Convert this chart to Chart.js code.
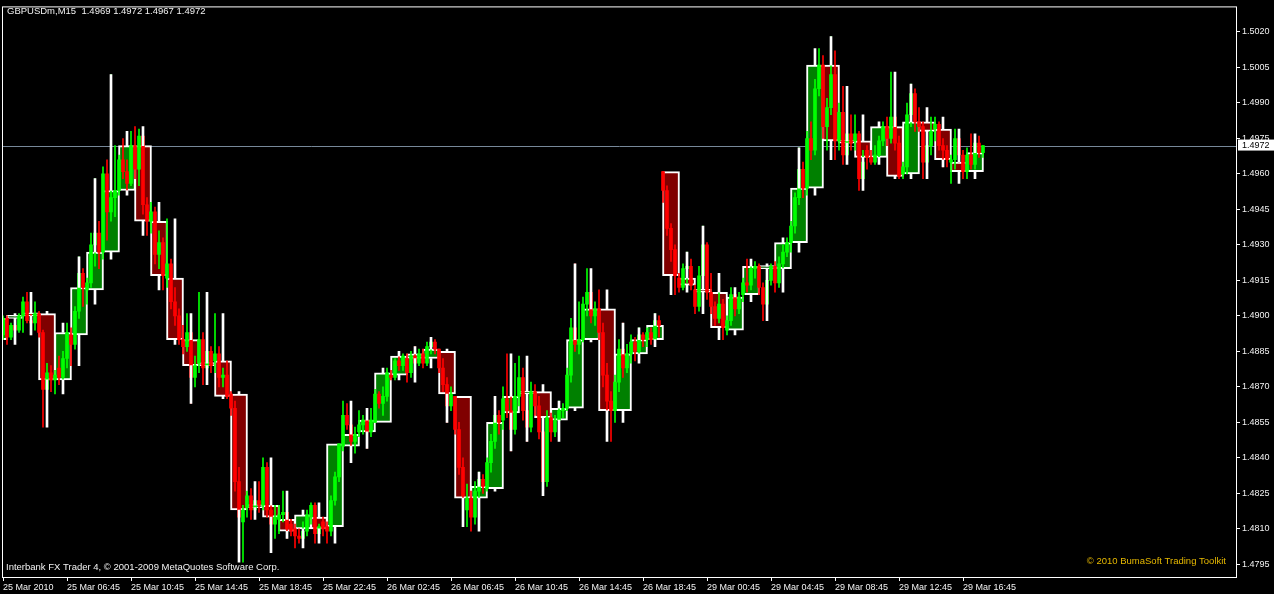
<!DOCTYPE html>
<html>
<head>
<meta charset="utf-8">
<script src="https://cdn.jsdelivr.net/npm/chart.js@4.4.1/dist/chart.umd.min.js"></script>
<style>
html,body{margin:0;padding:0;background:#000;}
canvas{display:block;}
</style>
</head>
<body>
<canvas id="c" width="1274" height="594"></canvas>
<script>
// ---- H1 candles (hour boxes), one per hour ----
const h1Open  = [1.4890,1.4899,1.4900,1.4901,1.4873,1.4892,1.4911,1.4927,1.4953,1.4972,1.4940,1.4916,1.4890,1.4880,1.4881,1.4867,1.4819,1.4820,1.4814,1.4810,1.4815,1.4811,1.4845,1.4851,1.4855,1.4875,1.4882,1.4882,1.4885,1.4866,1.4823,1.4827,1.4859,1.4867,1.4868,1.4856,1.4861,1.4890,1.4903,1.4860,1.4884,1.4890,1.4961,1.4916,1.4911,1.4910,1.4894,1.4909,1.4920,1.4920,1.4931,1.4954,1.5006,1.4974,1.4974,1.4967,1.4980,1.4960,1.4982,1.4979,1.4965,1.4961];
const h1High  = [1.4900,1.4901,1.4910,1.4902,1.4897,1.4925,1.4958,1.5002,1.4978,1.4980,1.4948,1.4941,1.4901,1.4910,1.4901,1.4868,1.4830,1.4840,1.4826,1.4818,1.4821,1.4846,1.4864,1.4861,1.4878,1.4885,1.4887,1.4891,1.4886,1.4866,1.4834,1.4866,1.4884,1.4883,1.4871,1.4864,1.4922,1.4920,1.4911,1.4897,1.4895,1.4901,1.4961,1.4927,1.4938,1.4918,1.4912,1.4924,1.4922,1.4933,1.4971,1.5013,1.5018,1.4997,1.4985,1.4982,1.5003,1.4998,1.4988,1.4984,1.4979,1.4977];
const h1Low   = [1.4888,1.4888,1.4892,1.4853,1.4867,1.4879,1.4905,1.4924,1.4951,1.4934,1.4911,1.4888,1.4863,1.4871,1.4865,1.4796,1.4814,1.4800,1.4806,1.4802,1.4804,1.4804,1.4838,1.4844,1.4855,1.4873,1.4872,1.4878,1.4855,1.4811,1.4809,1.4826,1.4843,1.4847,1.4824,1.4847,1.4860,1.4889,1.4847,1.4855,1.4880,1.4887,1.4909,1.4910,1.4901,1.4890,1.4892,1.4906,1.4898,1.4910,1.4927,1.4951,1.4966,1.4964,1.4953,1.4964,1.4958,1.4958,1.4958,1.4963,1.4956,1.4958];
const h1Close = [1.4899,1.4900,1.4901,1.4873,1.4893,1.4912,1.4927,1.4953,1.4972,1.4940,1.4917,1.4890,1.4879,1.4879,1.4866,1.4818,1.4820,1.4815,1.4809,1.4816,1.4810,1.4846,1.4850,1.4856,1.4876,1.4883,1.4884,1.4886,1.4867,1.4823,1.4828,1.4855,1.4866,1.4868,1.4857,1.4861,1.4890,1.4903,1.4860,1.4884,1.4890,1.4896,1.4917,1.4913,1.4910,1.4895,1.4908,1.4921,1.4921,1.4931,1.4954,1.5006,1.4974,1.4973,1.4967,1.4980,1.4959,1.4982,1.4978,1.4966,1.4961,1.4969];

// ---- M15 candles, one per 15-minute bar ----
const m15Open = [
1.4892,1.4899,1.4891,1.4896,1.4894,1.4900,1.4906,1.4898,1.4897,1.4901,
1.4893,1.4869,1.4876,1.4873,1.4878,1.4874,1.4882,1.4892,1.4888,1.4902,
1.4918,1.4911,1.4914,1.4930,1.4935,1.4927,1.4960,1.4944,1.4950,1.4953,
1.4966,1.4961,1.4956,1.4972,1.4962,1.4976,1.4947,1.4940,1.4944,1.4926,
1.4931,1.4916,1.4922,1.4906,1.4900,1.4890,1.4887,1.4893,1.4874,1.4880,
1.4890,1.4878,1.4885,1.4881,1.4884,1.4874,1.4875,1.4867,1.4861,1.4830,
1.4813,1.4819,1.4824,1.4818,1.4822,1.4820,1.4836,1.4818,1.4812,1.4814,
1.4816,1.4817,1.4812,1.4810,1.4807,1.4806,1.4809,1.4815,1.4820,1.4808,
1.4813,1.4811,1.4809,1.4822,1.4832,1.4845,1.4858,1.4854,1.4847,1.4851,
1.4854,1.4856,1.4851,1.4855,1.4867,1.4863,1.4866,1.4875,1.4874,1.4881,
1.4879,1.4882,1.4876,1.4883,1.4880,1.4884,1.4880,1.4887,1.4889,1.4886,
1.4878,1.4871,1.4862,1.4866,1.4852,1.4836,1.4818,1.4823,1.4815,1.4826,
1.4831,1.4827,1.4838,1.4847,1.4858,1.4856,1.4865,1.4860,1.4852,1.4866,
1.4874,1.4860,1.4853,1.4868,1.4862,1.4851,1.4830,1.4857,1.4851,1.4856,
1.4860,1.4861,1.4875,1.4895,1.4888,1.4890,1.4905,1.4910,1.4900,1.4903,
1.4893,1.4875,1.4864,1.4860,1.4872,1.4886,1.4878,1.4884,1.4889,1.4885,
1.4892,1.4890,1.4893,1.4890,1.4898,1.4961,1.4953,1.4937,1.4928,1.4916,
1.4912,1.4920,1.4921,1.4911,1.4904,1.4917,1.4930,1.4910,1.4904,1.4899,
1.4905,1.4894,1.4898,1.4909,1.4903,1.4909,1.4914,1.4913,1.4920,1.4921,
1.4912,1.4905,1.4915,1.4921,1.4914,1.4922,1.4927,1.4931,1.4938,1.4950,
1.4962,1.4954,1.4975,1.4970,1.4996,1.5006,1.4980,1.4988,1.5002,1.4974,
1.4986,1.4968,1.4977,1.4974,1.4977,1.4958,1.4970,1.4967,1.4965,1.4968,
1.4974,1.4980,1.4975,1.4984,1.4973,1.4960,1.4963,1.4985,1.4994,1.4982,
1.4980,1.4965,1.4972,1.4979,1.4981,1.4972,1.4970,1.4965,1.4966,1.4975,
1.4968,1.4961,1.4968,1.4964,1.4973,1.4969];
const m15High = [
1.4900,1.4900,1.4897,1.4899,1.4901,1.4908,1.4910,1.4903,1.4906,1.4902,
1.4894,1.4880,1.4879,1.4877,1.4883,1.4885,1.4897,1.4895,1.4904,1.4925,
1.4920,1.4916,1.4935,1.4958,1.4940,1.4963,1.4966,1.5002,1.4972,1.4968,
1.4975,1.4966,1.4978,1.4980,1.4979,1.4978,1.4950,1.4948,1.4946,1.4936,
1.4933,1.4941,1.4924,1.4912,1.4903,1.4896,1.4901,1.4895,1.4883,1.4910,
1.4893,1.4888,1.4887,1.4901,1.4887,1.4878,1.4881,1.4868,1.4864,1.4836,
1.4820,1.4826,1.4827,1.4824,1.4830,1.4840,1.4838,1.4826,1.4820,1.4820,
1.4826,1.4818,1.4814,1.4812,1.4810,1.4813,1.4818,1.4821,1.4821,1.4812,
1.4815,1.4813,1.4824,1.4834,1.4846,1.4864,1.4863,1.4856,1.4853,1.4860,
1.4858,1.4858,1.4861,1.4869,1.4868,1.4870,1.4878,1.4877,1.4882,1.4885,
1.4884,1.4884,1.4885,1.4887,1.4886,1.4886,1.4889,1.4891,1.4890,1.4886,
1.4882,1.4874,1.4870,1.4866,1.4855,1.4840,1.4829,1.4826,1.4830,1.4834,
1.4833,1.4840,1.4850,1.4866,1.4860,1.4870,1.4884,1.4866,1.4880,1.4883,
1.4878,1.4864,1.4872,1.4871,1.4866,1.4854,1.4860,1.4859,1.4858,1.4864,
1.4863,1.4878,1.4899,1.4922,1.4906,1.4908,1.4920,1.4914,1.4906,1.4911,
1.4897,1.4880,1.4868,1.4875,1.4890,1.4897,1.4888,1.4892,1.4891,1.4895,
1.4893,1.4895,1.4895,1.4901,1.4900,1.4961,1.4955,1.4939,1.4930,1.4918,
1.4922,1.4927,1.4924,1.4913,1.4921,1.4938,1.4931,1.4918,1.4906,1.4910,
1.4907,1.4900,1.4912,1.4911,1.4910,1.4916,1.4924,1.4922,1.4923,1.4922,
1.4914,1.4917,1.4922,1.4923,1.4925,1.4930,1.4933,1.4940,1.4952,1.4971,
1.4965,1.4978,1.4982,1.5000,1.5013,1.5010,1.4992,1.5018,1.5012,1.4990,
1.4997,1.4980,1.4985,1.4985,1.4978,1.4970,1.4972,1.4970,1.4972,1.4976,
1.4982,1.4984,1.5003,1.4992,1.4976,1.4965,1.4990,1.4998,1.4996,1.4988,
1.4982,1.4975,1.4984,1.4984,1.4982,1.4975,1.4972,1.4968,1.4979,1.4977,
1.4970,1.4971,1.4977,1.4975,1.4976,1.4972];
const m15Low = [
1.4890,1.4888,1.4890,1.4892,1.4893,1.4893,1.4897,1.4892,1.4894,1.4891,
1.4853,1.4862,1.4868,1.4867,1.4871,1.4872,1.4878,1.4879,1.4886,1.4899,
1.4904,1.4905,1.4912,1.4921,1.4920,1.4924,1.4932,1.4940,1.4942,1.4951,
1.4958,1.4952,1.4955,1.4958,1.4955,1.4943,1.4934,1.4935,1.4922,1.4920,
1.4911,1.4912,1.4903,1.4896,1.4888,1.4884,1.4885,1.4863,1.4870,1.4876,
1.4871,1.4875,1.4876,1.4876,1.4870,1.4870,1.4865,1.4858,1.4826,1.4812,
1.4796,1.4815,1.4814,1.4815,1.4817,1.4818,1.4815,1.4800,1.4806,1.4808,
1.4813,1.4806,1.4807,1.4802,1.4804,1.4803,1.4807,1.4812,1.4804,1.4805,
1.4807,1.4804,1.4807,1.4820,1.4830,1.4843,1.4852,1.4838,1.4842,1.4849,
1.4850,1.4844,1.4849,1.4855,1.4861,1.4858,1.4864,1.4873,1.4873,1.4877,
1.4877,1.4872,1.4874,1.4878,1.4879,1.4878,1.4879,1.4884,1.4884,1.4876,
1.4868,1.4855,1.4860,1.4850,1.4833,1.4820,1.4811,1.4809,1.4812,1.4822,
1.4825,1.4826,1.4834,1.4844,1.4850,1.4852,1.4857,1.4843,1.4850,1.4862,
1.4856,1.4847,1.4851,1.4858,1.4848,1.4824,1.4828,1.4847,1.4849,1.4853,
1.4857,1.4860,1.4872,1.4885,1.4884,1.4889,1.4900,1.4897,1.4896,1.4890,
1.4870,1.4858,1.4847,1.4855,1.4868,1.4874,1.4876,1.4880,1.4881,1.4884,
1.4887,1.4887,1.4888,1.4889,1.4891,1.4948,1.4934,1.4923,1.4909,1.4910,
1.4911,1.4914,1.4911,1.4901,1.4902,1.4912,1.4907,1.4901,1.4896,1.4897,
1.4890,1.4892,1.4896,1.4900,1.4901,1.4906,1.4910,1.4911,1.4916,1.4909,
1.4898,1.4903,1.4913,1.4910,1.4912,1.4920,1.4925,1.4927,1.4935,1.4947,
1.4950,1.4951,1.4966,1.4968,1.4993,1.4975,1.4970,1.4985,1.4966,1.4970,
1.4964,1.4966,1.4970,1.4970,1.4953,1.4956,1.4962,1.4964,1.4964,1.4966,
1.4972,1.4972,1.4973,1.4970,1.4958,1.4958,1.4960,1.4980,1.4978,1.4978,
1.4958,1.4962,1.4968,1.4974,1.4970,1.4963,1.4963,1.4956,1.4962,1.4965,
1.4958,1.4958,1.4962,1.4962,1.4967,1.4967];
const m15Close = [
1.4899,1.4891,1.4896,1.4894,1.4900,1.4906,1.4898,1.4897,1.4901,1.4893,
1.4869,1.4876,1.4873,1.4875,1.4874,1.4882,1.4893,1.4888,1.4902,1.4918,
1.4912,1.4914,1.4930,1.4935,1.4927,1.4960,1.4944,1.4950,1.4953,1.4966,
1.4961,1.4956,1.4972,1.4962,1.4976,1.4947,1.4940,1.4944,1.4926,1.4931,
1.4917,1.4922,1.4906,1.4900,1.4890,1.4887,1.4893,1.4874,1.4879,1.4890,
1.4878,1.4885,1.4879,1.4884,1.4874,1.4875,1.4866,1.4861,1.4830,1.4815,
1.4818,1.4824,1.4818,1.4822,1.4820,1.4836,1.4818,1.4812,1.4815,1.4816,
1.4817,1.4810,1.4809,1.4807,1.4806,1.4809,1.4816,1.4820,1.4808,1.4811,
1.4810,1.4809,1.4822,1.4832,1.4846,1.4858,1.4854,1.4847,1.4850,1.4854,
1.4856,1.4851,1.4856,1.4867,1.4863,1.4866,1.4876,1.4874,1.4881,1.4879,
1.4883,1.4876,1.4883,1.4880,1.4884,1.4880,1.4887,1.4889,1.4886,1.4878,
1.4871,1.4862,1.4867,1.4852,1.4836,1.4824,1.4823,1.4815,1.4826,1.4831,
1.4828,1.4838,1.4847,1.4858,1.4855,1.4865,1.4860,1.4852,1.4866,1.4874,
1.4860,1.4853,1.4868,1.4862,1.4851,1.4830,1.4857,1.4851,1.4856,1.4860,
1.4861,1.4875,1.4895,1.4888,1.4890,1.4905,1.4910,1.4900,1.4903,1.4893,
1.4875,1.4864,1.4860,1.4872,1.4886,1.4878,1.4884,1.4889,1.4885,1.4892,
1.4890,1.4893,1.4890,1.4898,1.4896,1.4953,1.4937,1.4928,1.4917,1.4912,
1.4920,1.4921,1.4913,1.4904,1.4917,1.4930,1.4910,1.4904,1.4899,1.4905,
1.4895,1.4898,1.4909,1.4903,1.4908,1.4914,1.4913,1.4920,1.4921,1.4912,
1.4905,1.4915,1.4921,1.4914,1.4922,1.4927,1.4931,1.4938,1.4950,1.4962,
1.4954,1.4975,1.4970,1.4996,1.5006,1.4980,1.4988,1.5002,1.4974,1.4986,
1.4968,1.4977,1.4973,1.4977,1.4958,1.4965,1.4967,1.4965,1.4968,1.4974,
1.4980,1.4975,1.4984,1.4973,1.4959,1.4963,1.4985,1.4994,1.4982,1.4980,
1.4965,1.4972,1.4978,1.4981,1.4972,1.4970,1.4966,1.4966,1.4975,1.4968,
1.4961,1.4968,1.4964,1.4973,1.4969,1.4972];

// ---- axis labels ----
const xTickLabels = ["25 Mar 2010","25 Mar 06:45","25 Mar 10:45","25 Mar 14:45","25 Mar 18:45","25 Mar 22:45","26 Mar 02:45","26 Mar 06:45","26 Mar 10:45","26 Mar 14:45","26 Mar 18:45","29 Mar 00:45","29 Mar 04:45","29 Mar 08:45","29 Mar 12:45","29 Mar 16:45"];
const yTickValues = [1.4795,1.4810,1.4825,1.4840,1.4855,1.4870,1.4885,1.4900,1.4915,1.4930,1.4945,1.4960,1.4975,1.4990,1.5005,1.5020];
const titleText = "GBPUSDm,M15  1.4969 1.4972 1.4967 1.4972";
const currentPrice = 1.4972;
const copyrightLeft = "Interbank FX Trader 4, \u00A9 2001-2009 MetaQuotes Software Corp.";
const copyrightRight = "\u00A9 2010 BumaSoft Trading Toolkit";

// bar positions: M15 bar j at x=j ; hour box k centred at x=4k-1
const X_MIN = 0, X_MAX = 308.25;
const Y_MIN = 1.4789682, Y_MAX = 1.5030382;

const FONT = {family: "'Liberation Sans', Arial, sans-serif", size: 9};
const BULL_BOX = '#008000', BEAR_BOX = '#800000';
const BULL = '#00FF00', BEAR = '#FF0000';

const h1Body = h1Open.map((o,k)=>({x:4*k-1, y:[o, h1Close[k]]}));
const h1Col = h1Open.map((o,k)=> h1Close[k] >= o ? BULL_BOX : BEAR_BOX);
// hour wicks drawn as separate upper / lower segments outside the box
const h1Wick = [];
h1Open.forEach((o,k)=>{
  const top=Math.max(o,h1Close[k]), bot=Math.min(o,h1Close[k]);
  if (h1High[k] > top) h1Wick.push({x:4*k-1, y:[top, h1High[k]]});
  if (h1Low[k] < bot) h1Wick.push({x:4*k-1, y:[h1Low[k], bot]});
});
const m15Body = m15Open.map((o,j)=>({x:j, y:[o, m15Close[j]]}));
const m15Wick = m15High.map((h,j)=>({x:j, y:[m15Low[j], h]}));
const m15Col = m15Open.map((o,j)=> m15Close[j] >= o ? BULL : BEAR);

const common = {grouped:false, clip:0, borderSkipped:false};

const bgPlugin = {
  id:'bg',
  beforeDraw(c){ const g=c.ctx; g.save(); g.fillStyle='#000'; g.fillRect(0,0,c.width,c.height); g.restore(); }
};
const framePlugin = {
  id:'frame',
  beforeDatasetsDraw(c){
    const a=c.chartArea, g=c.ctx, y=c.scales.y;
    g.save();
    g.strokeStyle='#778899'; g.lineWidth=1;
    const py=Math.round(y.getPixelForValue(currentPrice))+0.5;
    g.beginPath(); g.moveTo(a.left,py); g.lineTo(a.right,py); g.stroke();
    g.restore();
  },
  afterDraw(c){
    const a=c.chartArea, g=c.ctx, y=c.scales.y;
    g.save();
    g.strokeStyle='#FFFFFF'; g.lineWidth=1;
    g.strokeRect(a.left-0.5, a.top-0.5, a.right-a.left+1, a.bottom-a.top+1);
    // current price label
    const py=y.getPixelForValue(currentPrice);
    g.fillStyle='#FFFFFF';
    g.fillRect(a.right+2, py-6, c.width-a.right-2, 11);
    g.fillStyle='#000000';
    g.font="9px 'Liberation Sans', Arial, sans-serif";
    g.textBaseline='middle'; g.textAlign='left';
    g.fillText(currentPrice.toFixed(4), a.right+6, py);
    // texts
    g.font="9.5px 'Liberation Sans', Arial, sans-serif";
    g.fillStyle='#F2F2F2';
    g.fillText(titleText, 7, 11);
    g.fillText(copyrightLeft, 6, 567.5);
    g.fillStyle='#E6B800'; g.textAlign='right';
    g.fillText(copyrightRight, 1226, 561);
    g.restore();
  }
};

new Chart(document.getElementById('c'), {
  type:'bar',
  data:{datasets:[
    {label:'h1 wick', data:h1Wick, backgroundColor:'#FFFFFF', barThickness:2, minBarLength:1, borderWidth:0, ...common},
    {label:'m15 body', data:m15Body, backgroundColor:m15Col, barThickness:3, minBarLength:1, borderWidth:0, ...common},
    {label:'m15 wick', data:m15Wick, backgroundColor:m15Col, barThickness:1, minBarLength:1, borderWidth:0, ...common},
    {label:'h1 box', data:h1Body, backgroundColor:h1Col, borderColor:'#FFFFFF', borderWidth:2, barThickness:17, minBarLength:3, ...common}
  ]},
  options:{
    responsive:false, animation:false, events:[],
    layout:{padding:{left:3, top:2, right:0, bottom:0}},
    plugins:{legend:{display:false}, tooltip:{enabled:false}},
    scales:{
      x:{type:'linear', min:X_MIN, max:X_MAX, offset:false, position:'bottom',
         afterBuildTicks:s=>{ s.ticks = xTickLabels.map((_,i)=>({value:16*i})); },
         afterFit:s=>{ s.height=17; },
         border:{display:false},
         grid:{display:true, drawOnChartArea:false, drawTicks:true, tickLength:4, tickColor:'#FFFFFF', color:'#FFFFFF', offset:false},
         ticks:{autoSkip:false, maxRotation:0, minRotation:0, align:'start', padding:1, color:'#F2F2F2', font:FONT,
                callback:(v,i)=>xTickLabels[i]}
      },
      y:{type:'linear', position:'right', min:Y_MIN, max:Y_MAX,
         afterBuildTicks:s=>{ s.ticks = yTickValues.map(v=>({value:v})); },
         afterFit:s=>{ s.width=38; },
         border:{display:false},
         grid:{display:true, drawOnChartArea:false, drawTicks:true, tickLength:4, tickColor:'#FFFFFF', color:'#FFFFFF'},
         ticks:{autoSkip:false, padding:2, color:'#F2F2F2', font:FONT, crossAlign:'near',
                callback:v=>Number(v).toFixed(4)}
      }
    }
  },
  plugins:[bgPlugin, framePlugin]
});
</script>
</body>
</html>
